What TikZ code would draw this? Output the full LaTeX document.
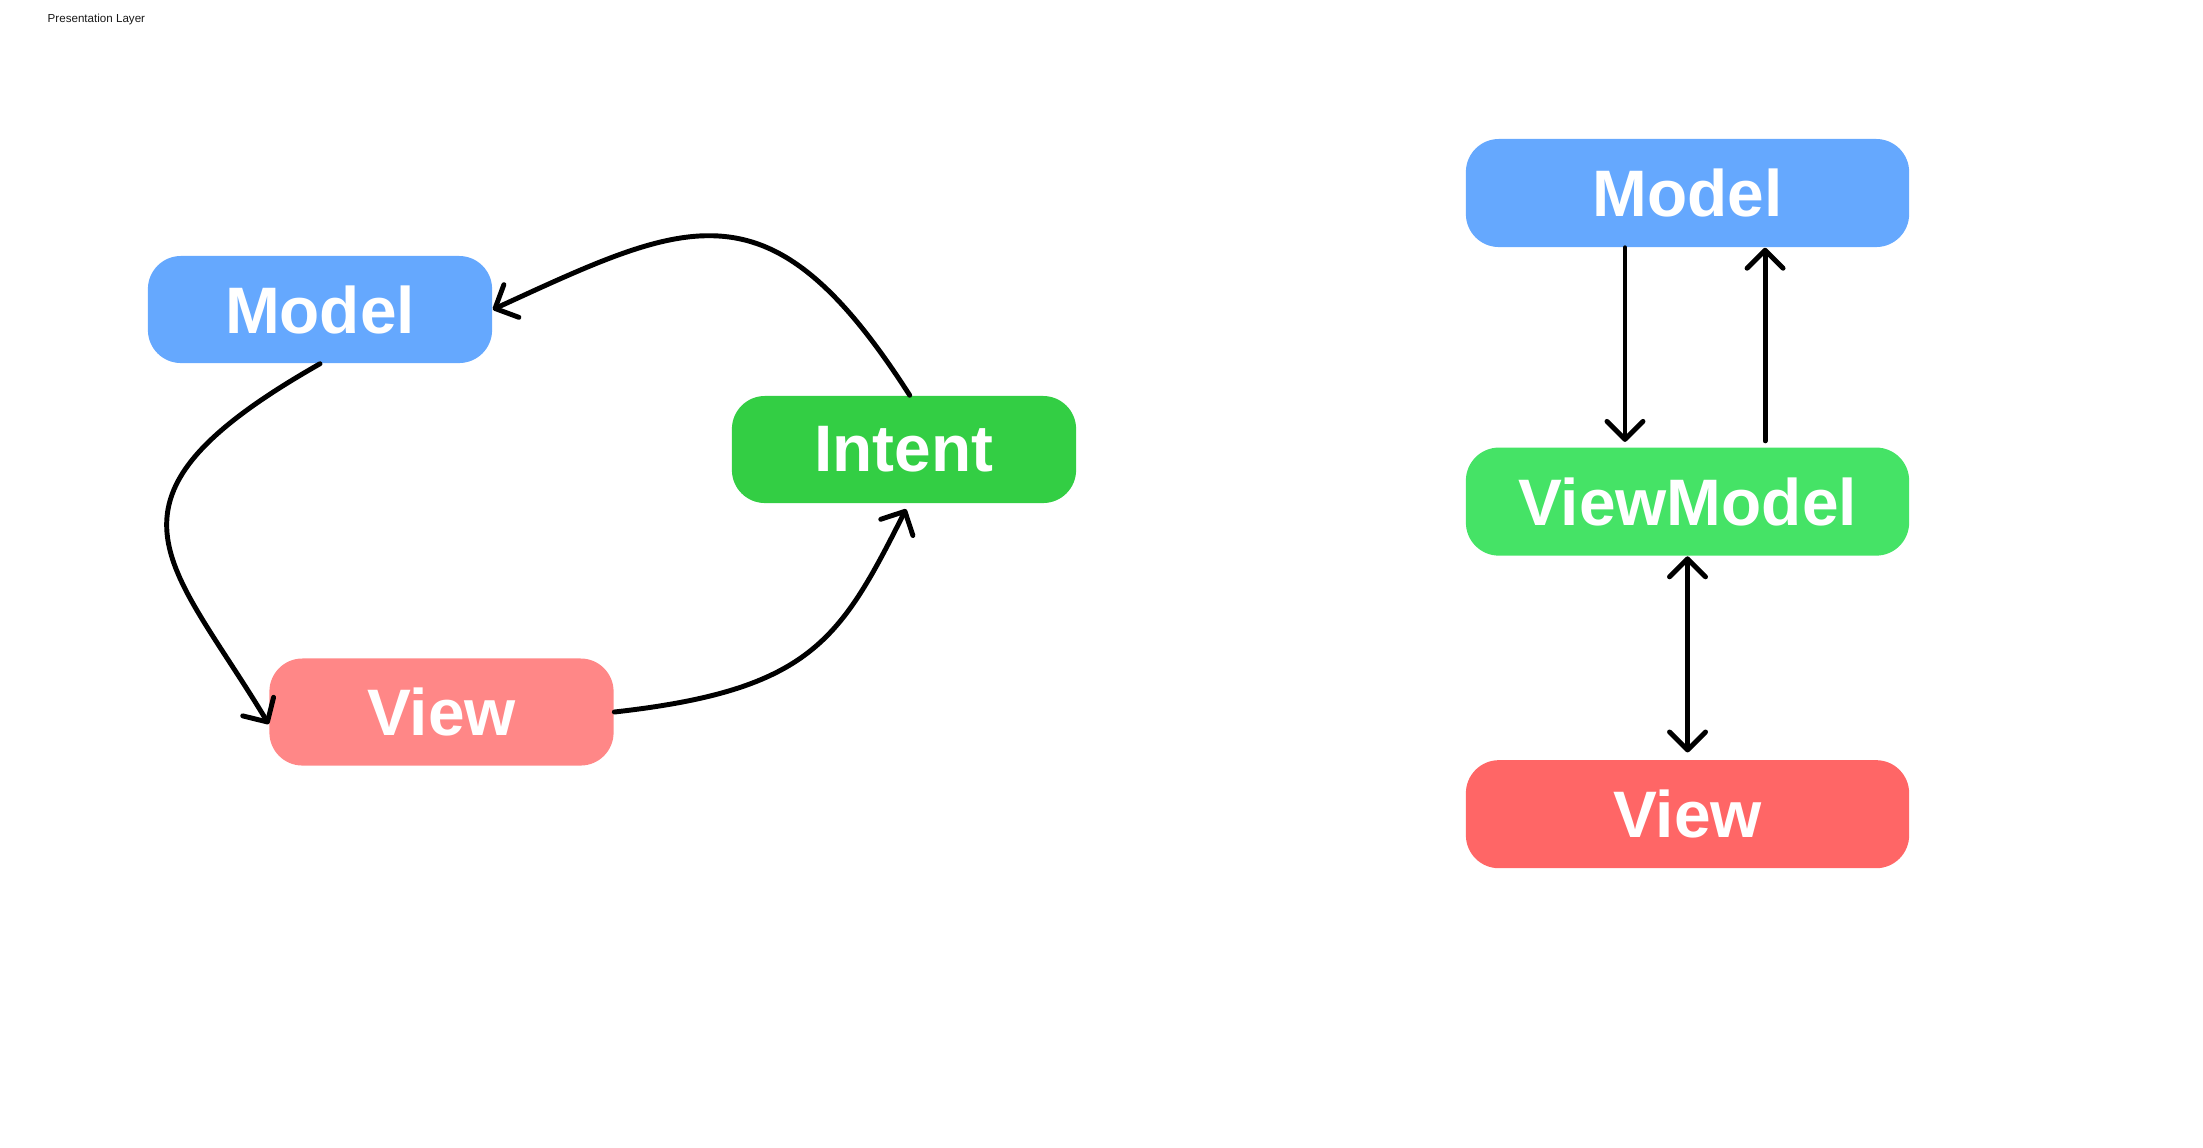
\documentclass[tikz,border=0pt]{standalone}
\usepackage{fontspec}
\setmainfont{Liberation Sans}
\usepackage{tikz}
\usetikzlibrary{calc, positioning, arrows.meta}
\definecolor{modelblue}{HTML}{65A8FE}
\definecolor{intentgreen}{HTML}{33CE44}
\definecolor{vmgreen}{HTML}{45E366}
\definecolor{viewpink}{HTML}{FF8787}
\definecolor{viewred}{HTML}{FF6666}
\tikzset{
    auto, node distance = 1.99cm and 1cm,% gap between the boxes of the right column
    box/.style = {rectangle, rounded corners=0.33cm, minimum width=3.44cm, minimum height=1.07cm, inner sep=0pt, text=white, font=\fontsize{18.7}{20}\selectfont\bfseries},
    wide/.style = {box, minimum width=4.43cm, minimum height=1.08cm},
    arr/.style = {line width=1.4pt, line cap=round, -{Straight Barb[length=1.8mm, width=3.6mm, round]}},
    twoarr/.style = {arr, {Straight Barb[length=1.8mm, width=3.6mm, round]}-{Straight Barb[length=1.8mm, width=3.6mm, round]}}
}
\begin{document}
\begin{tikzpicture}[x=0.01cm, y=-0.01cm]
    \useasboundingbox (0,0) rectangle (2203,1147);
    \node[anchor=base west, inner sep=0pt, font=\fontsize{3.3}{4}\selectfont, text=black!90] (title) at (47,22) {Presentation Layer};
    % MVI cycle
    \node[box, fill=modelblue] (model) at (320,309.5) {Model};
    \node[box, fill=intentgreen] (intent) at (904,449.5) {Intent};
    \node[box, fill=viewpink] (view) at (441.5,712) {View};
    \draw[arr] (intent.84) .. controls (770,177) and (690,219) .. (model.east);
    \draw[arr] (model.south) .. controls (80,500) and (170,560) .. (view.184);
    \draw[arr, shorten >=0.06cm] (view.east) .. controls (811,690) and (840,640) .. (intent.-85);
    % MVVM column
    \node[wide, fill=modelblue] (m2) at (1687.5,193) {Model};
    \node[wide, fill=vmgreen] (vm) [below = of m2] {ViewModel};
    \node[wide, fill=viewred] (v2) [below = 2.03cm of vm] {View};
    \draw[arr, shorten >=0.05cm] ([xshift=-0.625cm]m2.south) -- ([xshift=-0.625cm]vm.north);
    \draw[arr, shorten <=0.06cm] ([xshift=0.775cm]vm.north) -- ([xshift=0.775cm]m2.south);
    \draw[twoarr, shorten >=0.07cm] (vm.south) -- (v2.north);
\end{tikzpicture}
\end{document}
